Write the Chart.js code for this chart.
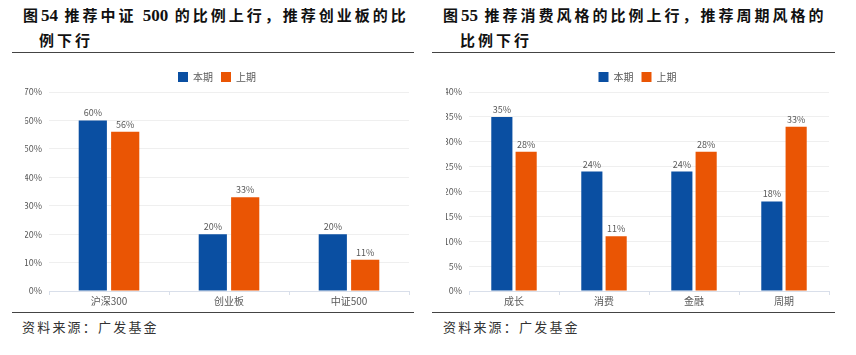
<!DOCTYPE html>
<html><head><meta charset="utf-8">
<script src="https://cdn.jsdelivr.net/npm/chart.js@4/dist/chart.umd.min.js"></script>
<style>
html,body{margin:0;padding:0;background:#fff;width:856px;height:355px;overflow:hidden;position:relative;font-family:"Noto Sans CJK SC",sans-serif;}
.t{position:absolute;font-weight:bold;font-size:15px;letter-spacing:3px;color:#111;white-space:nowrap;line-height:20px;}
.t .n{font-family:"Liberation Serif",serif;font-size:17px;letter-spacing:0;font-weight:bold;}
.rule{position:absolute;height:0;border-top:1.5px solid #444;}
.src{position:absolute;font-size:13px;letter-spacing:2.2px;color:#333;white-space:nowrap;line-height:18px;}
.cv{position:absolute;}
</style></head><body>
<div class="t" style="left:23px;top:5px;">图<span class="n">54</span> 推荐中证 <span class="n">500</span> 的比例上行，推荐创业板的比</div>
<div class="t" style="left:39px;top:30px;">例下行</div>
<div class="t" style="left:443px;top:5px;">图<span class="n">55</span> 推荐消费风格的比例上行，推荐周期风格的</div>
<div class="t" style="left:460px;top:30px;">比例下行</div>
<div class="rule" style="left:12px;top:52px;width:402px;"></div>
<div class="rule" style="left:432px;top:52px;width:403px;"></div>
<div class="rule" style="left:12px;top:312px;width:402px;"></div>
<div class="rule" style="left:432px;top:312px;width:403px;"></div>
<div class="src" style="left:22px;top:318px;">资料来源：广发基金</div>
<div class="src" style="left:443px;top:318px;">资料来源：广发基金</div>
<div class="cv" style="left:0;top:60px;width:428px;height:250px;"><canvas id="c1"></canvas></div>
<div class="cv" style="left:428px;top:60px;width:428px;height:250px;"><canvas id="c2"></canvas></div>
<script>
const seriesNames = ['本期','上期'];
const cats1 = ['沪深300','创业板','中证500'];
const cur1 = [60,20,20];
const prev1 = [56,33,11];
const yTicks1 = {min:0,max:70,step:10};
const cats2 = ['成长','消费','金融','周期'];
const cur2 = [35,24,24,18];
const prev2 = [28,11,28,33];
const yTicks2 = {min:0,max:40,step:5};

const BLUE = '#0A4FA2', ORANGE = '#EA5504', GREY = '#595959';
const FONT = '"Noto Sans CJK SC", sans-serif';

const labelPlugin = {
  id:'vlabels',
  afterDatasetsDraw(chart){
    const ctx = chart.ctx;
    ctx.save();
    ctx.font = '9px ' + FONT;
    ctx.fillStyle = GREY;
    ctx.textAlign = 'center';
    ctx.textBaseline = 'bottom';
    chart.data.datasets.forEach((ds,i)=>{
      const meta = chart.getDatasetMeta(i);
      meta.data.forEach((bar,j)=>{
        ctx.fillText(ds.data[j] + '%', bar.x, bar.y - 3);
      });
    });
    ctx.restore();
  }
};

function make(id, cats, cur, prev, yt, padL, yW, padR){
  new Chart(document.getElementById(id), {
    type:'bar',
    data:{
      labels:cats,
      datasets:[
        {label:seriesNames[0], data:cur, backgroundColor:BLUE, categoryPercentage:0.54, barPercentage:0.87},
        {label:seriesNames[1], data:prev, backgroundColor:ORANGE, categoryPercentage:0.54, barPercentage:0.87}
      ]
    },
    options:{
      responsive:true, maintainAspectRatio:false, animation:false,
      layout:{padding:{left:padL,right:padR,top:4,bottom:0}},
      plugins:{
        legend:{display:true, position:'top',
          labels:{boxWidth:10, boxHeight:10, padding:8, color:GREY, font:{family:FONT,size:10}}},
        tooltip:{enabled:false}
      },
      scales:{
        x:{
          offset:true,
          grid:{offset:true, drawOnChartArea:false, drawTicks:true, tickLength:4, color:'#D9DFEA'},
          border:{display:true, color:'#D9DFEA'},
          ticks:{color:GREY, font:{family:FONT,size:10}, padding:0},
          afterFit:(s)=>{ s.height = 19; }
        },
        y:{
          min:yt.min, max:yt.max,
          grid:{color:'#EFEFEF', drawTicks:false},
          border:{display:false},
          ticks:{stepSize:yt.step, color:GREY, padding:7, font:{family:FONT,size:9}, callback:v=>v+'%'},
          afterFit:(s)=>{ s.width = yW; }
        }
      }
    },
    plugins:[labelPlugin]
  });
}
make('c1', cats1, cur1, prev1, yTicks1, 25, 24, 19);
make('c2', cats2, cur2, prev2, yTicks2, 18, 23, 27);
</script>
</body></html>
